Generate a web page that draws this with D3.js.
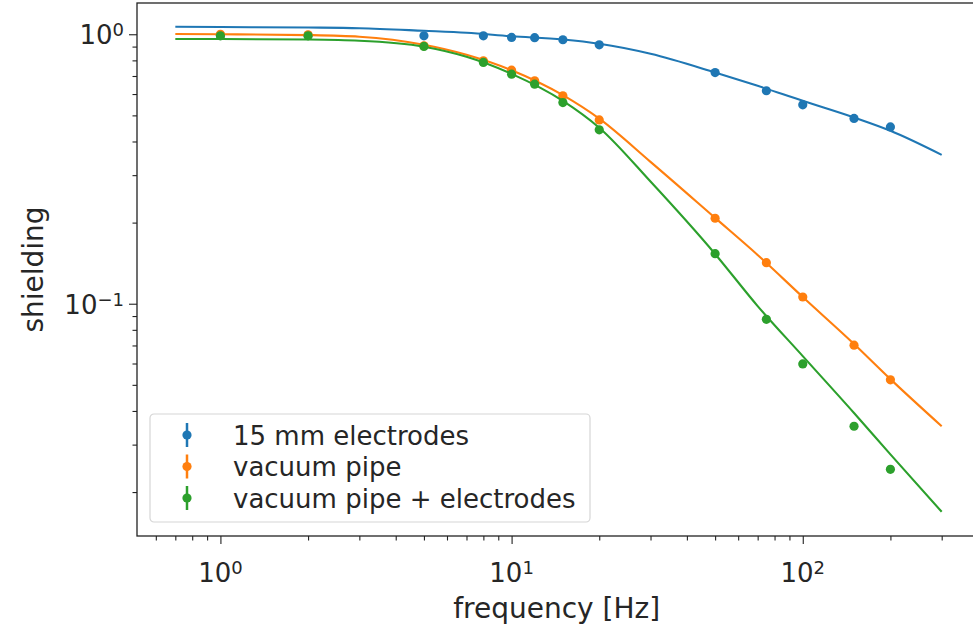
<!DOCTYPE html>
<html>
<head>
<meta charset="utf-8">
<script src="https://cdn.jsdelivr.net/npm/d3@7"></script>
<style>
  body { margin: 0; background: #fff; }
  text { font-family: "DejaVu Sans", sans-serif; fill: #262626; }
</style>
</head>
<body>
<div id="wrapper"></div>
<script>
// measured points (frequency in Hz)
const freqs = [1, 2, 5, 8, 10, 12, 15, 20, 50, 75, 100, 150, 200]
const electrodes = [0.99, 0.99, 0.987, 0.987, 0.973, 0.971, 0.954, 0.914, 0.721, 0.617, 0.547, 0.487, 0.453]
const pipe = [1.0, 0.996, 0.906, 0.797, 0.736, 0.672, 0.591, 0.481, 0.2076, 0.142, 0.1059, 0.0702, 0.0522]
const pipeElectrodes = [0.987, 0.987, 0.901, 0.786, 0.711, 0.653, 0.558, 0.442, 0.1533, 0.0875, 0.0598, 0.0351, 0.0243]

// fitted curves
const fitFreqs = [0.7, 1, 2, 3, 5, 7, 10, 15, 20, 30, 50, 70, 100, 150, 200, 300]
const fitElectrodes = [1.066, 1.0635, 1.059, 1.053, 1.03, 1.013, 0.983, 0.9557, 0.922, 0.8464, 0.7214, 0.6436, 0.566, 0.4911, 0.4384, 0.3568]
const fitPipe = [1.002, 1.0, 0.993, 0.979, 0.914, 0.839, 0.735, 0.594, 0.486, 0.336, 0.2082, 0.1517, 0.1059, 0.0709, 0.0525, 0.0351]
const fitPipeElectrodes = [0.96, 0.96, 0.9557, 0.946, 0.899, 0.825, 0.713, 0.566, 0.45, 0.284, 0.153, 0.098, 0.0639, 0.0393, 0.0276, 0.0169]

const seriesNames = ["15 mm electrodes", "vacuum pipe", "vacuum pipe + electrodes"]
const colors = ["#1f77b4", "#ff7f0e", "#2ca02c"]

const xTicks = [1, 10, 100]
const xTickExp = ["0", "1", "2"]
const yTicks = [1, 0.1]
const yTickExp = ["0", "\u22121"]

async function drawChart() {
  let dimensions = {
    width: 973,
    height: 630,
    margin: { top: 3, right: -7, bottom: 94, left: 137 },
  }
  dimensions.boundedWidth = dimensions.width - dimensions.margin.left - dimensions.margin.right
  dimensions.boundedHeight = dimensions.height - dimensions.margin.top - dimensions.margin.bottom

  const wrapper = d3.select("#wrapper")
    .append("svg")
      .attr("width", dimensions.width)
      .attr("height", dimensions.height)

  const bounds = wrapper.append("g")
    .attr("transform", `translate(${dimensions.margin.left},${dimensions.margin.top})`)

  // scales
  const xScale = d3.scaleLog()
    .domain([Math.pow(10, -0.2865), Math.pow(10, 2.6087)])
    .range([0, dimensions.boundedWidth])
  const yScale = d3.scaleLog()
    .domain([Math.pow(10, -1.862), Math.pow(10, 0.116)])
    .range([dimensions.boundedHeight, 0])

  // data
  const datasets = [
    { pts: electrodes, fit: fitElectrodes },
    { pts: pipe, fit: fitPipe },
    { pts: pipeElectrodes, fit: fitPipeElectrodes },
  ]
  const lineGenerator = d3.line()
    .x(d => xScale(d[0]))
    .y(d => yScale(d[1]))
    .curve(d3.curveMonotoneX)

  const plot = bounds.append("g")
  datasets.forEach((ds, i) => {
    plot.append("g").selectAll("circle")
      .data(freqs.map((f, j) => [f, ds.pts[j]]))
      .join("circle")
        .attr("cx", d => xScale(d[0]))
        .attr("cy", d => yScale(d[1]))
        .attr("r", 4.6)
        .attr("fill", colors[i])
    plot.append("path")
      .attr("d", lineGenerator(fitFreqs.map((f, j) => [f, ds.fit[j]])))
      .attr("fill", "none")
      .attr("stroke", colors[i])
      .attr("stroke-width", 2.1)
  })

  // axes
  const minorX = []
  for (let e = -1; e <= 2; e++) for (let k = 2; k <= 9; k++) {
    const v = k * Math.pow(10, e)
    if (v > xScale.domain()[0] && v < xScale.domain()[1]) minorX.push(v)
  }
  const minorY = []
  for (let e = -2; e <= 0; e++) for (let k = 2; k <= 9; k++) {
    const v = k * Math.pow(10, e)
    if (v > yScale.domain()[0] && v < yScale.domain()[1]) minorY.push(v)
  }

  const xAxis = bounds.append("g")
    .attr("transform", `translate(0,${dimensions.boundedHeight})`)
  xAxis.append("g")
    .call(d3.axisBottom(xScale).tickValues(minorX).tickSize(4.5).tickFormat(""))
  xAxis.append("g")
    .call(d3.axisBottom(xScale).tickValues(xTicks).tickSize(8).tickFormat(""))
  xAxis.selectAll(".domain").remove()
  xAxis.selectAll("line").attr("stroke", "#222").attr("stroke-width", 1.1)

  const yAxis = bounds.append("g")
  yAxis.append("g")
    .call(d3.axisLeft(yScale).tickValues(minorY).tickSize(4.5).tickFormat(""))
  yAxis.append("g")
    .call(d3.axisLeft(yScale).tickValues(yTicks).tickSize(8).tickFormat(""))
  yAxis.selectAll(".domain").remove()
  yAxis.selectAll("line").attr("stroke", "#222").attr("stroke-width", 1.1)

  // tick labels with superscripts
  xTicks.forEach((t, i) => {
    const txt = bounds.append("text")
      .attr("x", xScale(t))
      .attr("y", dimensions.boundedHeight + 46)
      .attr("text-anchor", "middle")
      .style("font-size", "26px")
    txt.append("tspan").text("10")
    txt.append("tspan").attr("dy", "-0.45em").style("font-size", "18px").text(xTickExp[i])
  })
  yTicks.forEach((t, i) => {
    const txt = bounds.append("text")
      .attr("x", -13)
      .attr("y", yScale(t) + 10)
      .attr("text-anchor", "end")
      .style("font-size", "26px")
    txt.append("tspan").text("10")
    txt.append("tspan").attr("dy", "-0.45em").style("font-size", "18px").text(yTickExp[i])
  })

  // frame
  bounds.append("rect")
    .attr("width", dimensions.boundedWidth)
    .attr("height", dimensions.boundedHeight)
    .attr("fill", "none")
    .attr("stroke", "#222")
    .attr("stroke-width", 1.3)

  // axis labels
  bounds.append("text")
    .attr("x", xScale(Math.pow(10, 1.155)))
    .attr("y", dimensions.boundedHeight + 82)
    .attr("text-anchor", "middle")
    .style("font-size", "28px")
    .text("frequency [Hz]")
  wrapper.append("text")
    .attr("transform", `translate(43,${dimensions.margin.top + dimensions.boundedHeight / 2}) rotate(-90)`)
    .attr("text-anchor", "middle")
    .style("font-size", "28px")
    .text("shielding")

  // legend
  const legend = bounds.append("g")
    .attr("transform", `translate(13,${dimensions.boundedHeight - 122})`)
  legend.append("rect")
    .attr("width", 440)
    .attr("height", 108)
    .attr("rx", 4)
    .attr("fill", "rgba(255,255,255,0.8)")
    .attr("stroke", "#d6d6d6")
    .attr("stroke-width", 1.2)
  seriesNames.forEach((name, i) => {
    const cy = 21 + i * 31.5
    legend.append("line")
      .attr("x1", 37).attr("x2", 37)
      .attr("y1", cy - 12).attr("y2", cy + 12)
      .attr("stroke", colors[i]).attr("stroke-width", 2.5)
    legend.append("circle")
      .attr("cx", 37).attr("cy", cy).attr("r", 4.6)
      .attr("fill", colors[i])
    legend.append("text")
      .attr("x", 83)
      .attr("y", cy + 9.5)
      .style("font-size", "26px")
      .text(name)
  })
}
drawChart()
</script>
</body>
</html>
